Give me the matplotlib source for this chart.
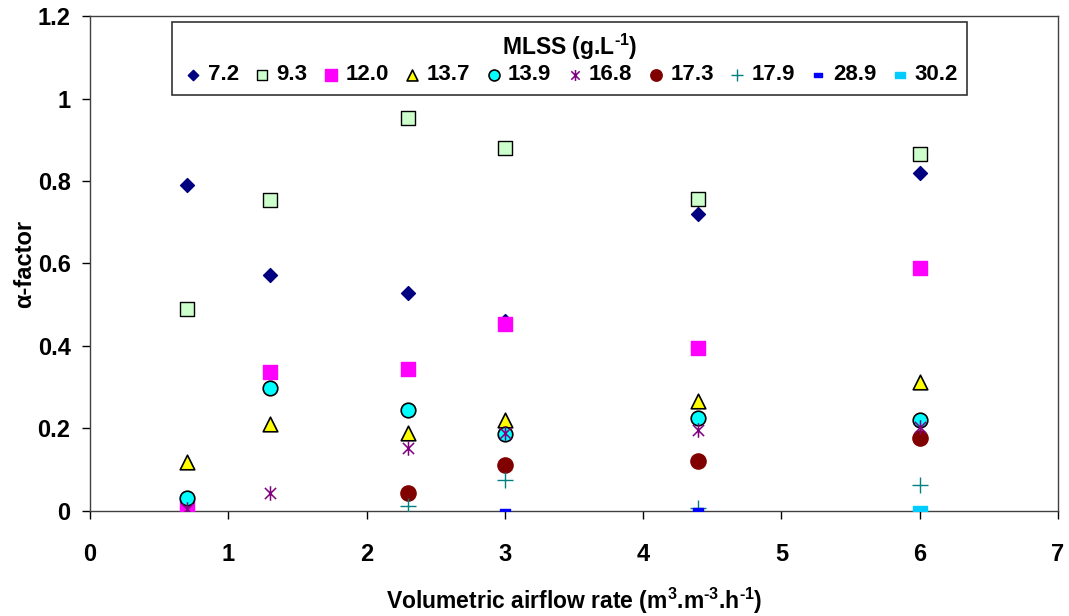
import numpy as np
import matplotlib.pyplot as plt
from matplotlib.path import Path

plt.rcParams['font.family'] = ['Liberation Sans', 'DejaVu Sans']
plt.rcParams['font.weight'] = 'bold'
plt.rcParams['mathtext.fontset'] = 'custom'
plt.rcParams['mathtext.rm'] = 'Liberation Sans:bold'
plt.rcParams['mathtext.bf'] = 'Liberation Sans:bold'
plt.rcParams['mathtext.it'] = 'Liberation Sans:bold'

# airflow rates (m3.m-3.h-1)
x_72 = [0.7, 1.3, 2.3, 3.0, 4.4, 6.0]
y_72 = [0.79, 0.573, 0.528, 0.46, 0.72, 0.82]
x_93 = [0.7, 1.3, 2.3, 3.0, 4.4, 6.0]
y_93 = [0.49, 0.755, 0.953, 0.88, 0.757, 0.865]
x_120 = [0.7, 1.3, 2.3, 3.0, 4.4, 6.0]
y_120 = [0.015, 0.337, 0.344, 0.453, 0.395, 0.589]
x_137 = [0.7, 1.3, 2.3, 3.0, 4.4, 6.0]
y_137 = [0.118, 0.211, 0.189, 0.221, 0.267, 0.313]
x_139 = [0.7, 1.3, 2.3, 3.0, 4.4, 6.0]
y_139 = [0.032, 0.297, 0.245, 0.187, 0.225, 0.221]
x_168 = [0.7, 1.3, 2.3, 3.0, 4.4, 6.0]
y_168 = [0.005, 0.044, 0.153, 0.188, 0.196, 0.204]
x_173 = [2.3, 3.0, 4.4, 6.0]
y_173 = [0.044, 0.111, 0.121, 0.177]
x_179 = [2.3, 3.0, 4.4, 6.0]
y_179 = [0.012, 0.075, 0.007, 0.063]
x_289 = [3.0, 4.4]
y_289 = [0.0, 0.002]
x_302 = [6.0]
y_302 = [0.002]

labels = ['7.2', '9.3', '12.0', '13.7', '13.9', '16.8', '17.3', '17.9', '28.9', '30.2']

# excel style asterisk: X plus vertical bar
star = Path([(-1, -1), (1, 1), (-1, 1), (1, -1), (0, -1.3), (0, 1.3)],
            [Path.MOVETO, Path.LINETO, Path.MOVETO, Path.LINETO, Path.MOVETO, Path.LINETO])
dash_s = Path([(-1, -0.5), (1, -0.5), (1, 0.5), (-1, 0.5), (-1, -0.5)],
              [Path.MOVETO, Path.LINETO, Path.LINETO, Path.LINETO, Path.CLOSEPOLY])

fig = plt.figure(figsize=(10.69, 6.16), dpi=100)
ax = fig.add_axes([0.0842, 0.1705, 0.9055, 0.8035])

ax.scatter(x_72, y_72, marker='D', s=50, c='#000080', label=labels[0], zorder=3)
ax.scatter(x_93, y_93, marker='s', s=95, c='#ccffcc', edgecolors='black', linewidths=1, label=labels[1], zorder=3)
ax.scatter(x_120, y_120, marker='s', s=115, c='#ff00ff', label=labels[2], zorder=3)
ax.scatter(x_137, y_137, marker='^', s=110, c='#ffff00', edgecolors='black', linewidths=1.2, label=labels[3], zorder=3)
ax.scatter(x_139, y_139, marker='o', s=110, c='#00ffff', edgecolors='black', linewidths=1.2, label=labels[4], zorder=3)
ax.scatter(x_168, y_168, marker=star, s=110, c='#800080', linewidths=1.1, label=labels[5], zorder=4)
ax.scatter(x_173, y_173, marker='o', s=120, c='#800000', label=labels[6], zorder=3)
ax.scatter(x_179, y_179, marker='+', s=120, c='#008080', linewidths=1.0, label=labels[7], zorder=3)
ax.scatter(x_289, y_289, marker=dash_s, s=50, c='#0000ff', label=labels[8], zorder=3)
ax.scatter(x_302, y_302, marker=dash_s, s=110, c='#00ccff', label=labels[9], zorder=3)

ax.set_xlim(0, 7)
ax.set_ylim(0, 1.2)
ax.set_xticks(np.arange(0, 8, 1))
ax.set_yticks([0, 0.2, 0.4, 0.6, 0.8, 1, 1.2])
ax.set_yticklabels(['0', '0.2', '0.4', '0.6', '0.8', '1', '1.2'])
ax.tick_params(labelsize=17, length=6, width=1, direction='out', colors='black')
ax.tick_params(axis='x', pad=17)
ax.tick_params(axis='y', pad=8)
for s in ax.spines.values():
    s.set_color('#404040')
    s.set_linewidth(1)

ax.set_xlabel('Volumetric airflow rate (m$^{3}$.m$^{\\text{-3}}$.h$^{\\text{-1}}$)',
              fontsize=16.5, fontweight='bold', labelpad=14)
ax.set_ylabel('α-factor', fontsize=17, fontweight='bold', labelpad=1)

leg = ax.legend(ncol=10, loc='upper left', bbox_to_anchor=(0.085, 0.988),
                title='MLSS (g.L$^{\\text{-1}}$)', fontsize=16, title_fontsize=16.5,
                frameon=True, fancybox=False, edgecolor='black', handletextpad=0.15,
                columnspacing=0.55, handlelength=1.0, borderpad=0.45, labelspacing=0.1,
                borderaxespad=0, markerscale=0.75)
leg.get_frame().set_linewidth(1.2)
leg.get_title().set_fontweight('bold')

fig.savefig('out.png', dpi=100)
